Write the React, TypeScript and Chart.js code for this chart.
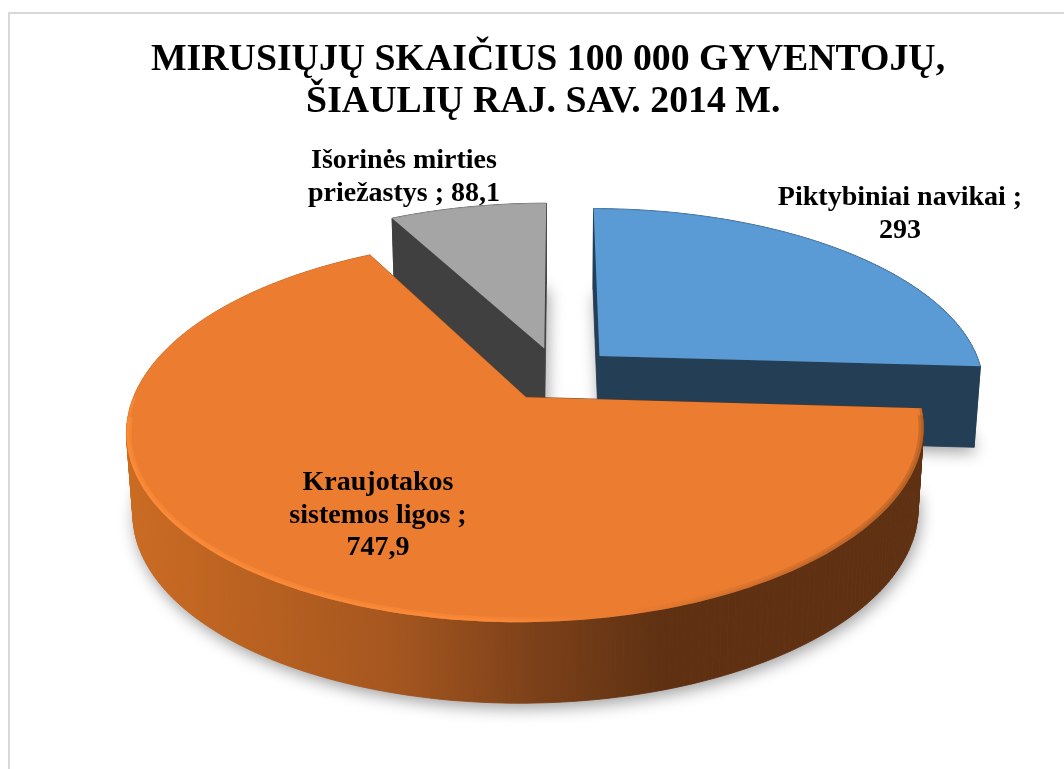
import React, { useEffect, useRef } from "react";
import { Chart, registerables } from "chart.js";

Chart.register(...registerables);

const categories = ["Piktybiniai navikai", "Kraujotakos sistemos ligos", "Išorinės mirties priežastys"];
const values = [293, 747.9, 88.1];
const titleLines = ["MIRUSIŲJŲ SKAIČIUS 100 000 GYVENTOJŲ,", "ŠIAULIŲ RAJ. SAV. 2014 M. "];
const faceColors = ["#5B9BD5", "#EB7C30", "#A5A5A5"];
const wallColors = ["#243F55", "", "#404040"];
const labelLines = [
  ["Piktybiniai navikai ;", "293"],
  ["Kraujotakos", "sistemos ligos ;", "747,9"],
  ["Išorinės mirties", "priežastys ; 88,1"],
];
const labelAnchors = [
  { x: 900, y: 198 },
  { x: 378, y: 483 },
  { x: 404, y: 161 },
];

const RADIUS = 384;
const EXPLODE = 58;
const PERSPECTIVE = 0.17;
const FLATTEN = 178;
const DEPTH = 81;
const SHRINK = 0.985;
const CENTER_SHIFT_X = 10;
const CENTER_Y = 374;
const FONT = "'Liberation Serif', 'Times New Roman', serif";

const pie3d = {
  id: "pie3d",
  beforeDraw(chart: any) {
    const { ctx, width, height } = chart;
    ctx.save();
    ctx.fillStyle = "#FFFFFF";
    ctx.fillRect(0, 0, width, height);
    ctx.strokeStyle = "#D9D9D9";
    ctx.lineWidth = 2;
    ctx.beginPath();
    ctx.moveTo(9, height);
    ctx.lineTo(9, 13);
    ctx.lineTo(width, 13);
    ctx.stroke();
    ctx.restore();
  },
  beforeDatasetsDraw(chart: any) {
    const { ctx } = chart;
    const arcs = chart.getDatasetMeta(0).data;
    const slices = arcs.map((arc: any, index: number) => {
      const R = arc.outerRadius;
      const cx = arc.x + CENTER_SHIFT_X;
      const mid = (arc.startAngle + arc.endAngle) / 2;
      const d = arc.options.offset / R;
      const au = d * Math.cos(mid);
      const av = -d * Math.sin(mid);
      const project = (u: number, v: number, z: number) => {
        const w = 1 + PERSPECTIVE * v;
        return {
          x: cx + ((R * u) / w) * (z ? SHRINK : 1),
          y: CENTER_Y - (FLATTEN * v) / w + z * DEPTH,
        };
      };
      const rim: { u: number; v: number }[] = [];
      const steps = Math.ceil(((arc.endAngle - arc.startAngle) * 180) / Math.PI);
      for (let i = 0; i <= steps; i++) {
        const t = arc.startAngle + ((arc.endAngle - arc.startAngle) * i) / steps;
        rim.push({ u: au + Math.cos(t), v: av - Math.sin(t) });
      }
      const loop = [{ u: au, v: av }, ...rim];
      return {
        index,
        av,
        top: loop.map((p) => project(p.u, p.v, 0)),
        bottom: loop.map((p) => project(p.u, p.v, 1)),
      };
    });
    const order = [...slices].sort((a: any, b: any) => b.av - a.av);
    const trace = (pts: { x: number; y: number }[]) => {
      ctx.beginPath();
      pts.forEach((p, i) => (i ? ctx.lineTo(p.x, p.y) : ctx.moveTo(p.x, p.y)));
      ctx.closePath();
    };

    ctx.save();
    order.forEach((s: any) => {
      ctx.save();
      ctx.shadowColor = "rgba(0,0,0,0.38)";
      ctx.shadowBlur = 16;
      ctx.shadowOffsetX = 2;
      ctx.shadowOffsetY = 5;
      ctx.fillStyle = "#888888";
      trace(s.bottom);
      ctx.fill();
      ctx.restore();
    });

    order.forEach((s: any) => {
      let wall: any = wallColors[s.index];
      if (!wall) {
        wall = ctx.createLinearGradient(130, 0, 660, 0);
        wall.addColorStop(0, "#CB6B22");
        wall.addColorStop(0.5, "#A5561F");
        wall.addColorStop(0.78, "#7A3F18");
        wall.addColorStop(1, "#5F3112");
      }
      const n = s.top.length;
      const quads = [];
      for (let i = 0; i < n; i++) {
        const j = (i + 1) % n;
        quads.push([s.top[i], s.top[j], s.bottom[j], s.bottom[i]]);
      }
      quads.sort(
        (a: any, b: any) => a[0].y + a[1].y + a[2].y + a[3].y - (b[0].y + b[1].y + b[2].y + b[3].y),
      );
      ctx.fillStyle = wall;
      ctx.strokeStyle = wall;
      ctx.lineWidth = 0.8;
      quads.forEach((q: any) => {
        trace(q);
        ctx.fill();
        ctx.stroke();
      });

      trace(s.top);
      ctx.fillStyle = faceColors[s.index];
      ctx.fill();

      ctx.save();
      trace(s.top);
      ctx.clip();
      const rimPts = s.top.slice(1);
      const strokeRim = (style: any, width: number, minY: number) => {
        ctx.strokeStyle = style;
        ctx.lineWidth = width;
        ctx.beginPath();
        let started = false;
        rimPts.forEach((p: any) => {
          if (p.y < minY) return;
          if (started) ctx.lineTo(p.x, p.y);
          else ctx.moveTo(p.x, p.y);
          started = true;
        });
        ctx.stroke();
      };
      if (s.index === 1) {
        const glow = ctx.createLinearGradient(125, 0, 925, 0);
        glow.addColorStop(0, "rgba(255,142,58,0.55)");
        glow.addColorStop(0.45, "rgba(255,142,58,0.5)");
        glow.addColorStop(0.58, "rgba(255,142,58,0)");
        glow.addColorStop(0.62, "rgba(150,80,30,0)");
        glow.addColorStop(0.82, "rgba(150,80,30,0.2)");
        glow.addColorStop(1, "rgba(150,80,30,0.4)");
        strokeRim(glow, 10, 415);
        strokeRim(glow, 5, 395);
      } else {
        strokeRim(s.index === 0 ? "#4C88C0" : "#969696", 1.5, 0);
      }
      ctx.restore();
    });
    ctx.restore();
    return false;
  },
  afterDraw(chart: any) {
    const { ctx } = chart;
    ctx.save();
    ctx.fillStyle = "#000000";
    ctx.font = `bold 28px ${FONT}`;
    ctx.textAlign = "center";
    ctx.textBaseline = "middle";
    labelLines.forEach((lines, i) => {
      lines.forEach((line, j) => {
        ctx.fillText(line, labelAnchors[i].x, labelAnchors[i].y + j * 32.5);
      });
    });
    ctx.restore();
  },
};

export default function App() {
  const ref = useRef<HTMLCanvasElement | null>(null);
  useEffect(() => {
    const chart = new Chart(ref.current as HTMLCanvasElement, {
      type: "pie",
      data: {
        labels: categories,
        datasets: [{ data: values, backgroundColor: faceColors, borderWidth: 0, offset: EXPLODE }],
      },
      plugins: [pie3d],
      options: {
        animation: false,
        responsive: false,
        radius: RADIUS,
        layout: { padding: { left: 32, right: 0, top: 39, bottom: 146 } },
        plugins: {
          legend: { display: false },
          tooltip: { enabled: false },
          title: {
            display: true,
            text: titleLines,
            color: "#000000",
            font: { family: FONT, size: 37.8, weight: "bold", lineHeight: 1.11 },
            padding: { top: 0, bottom: 0 },
          },
        },
      },
    } as any);
    return () => chart.destroy();
  }, []);
  return (
    <div style={{ position: "fixed", left: 0, top: 0, width: 1064, height: 769 }}>
      <canvas ref={ref} width={1064} height={769} style={{ display: "block" }} />
    </div>
  );
}
